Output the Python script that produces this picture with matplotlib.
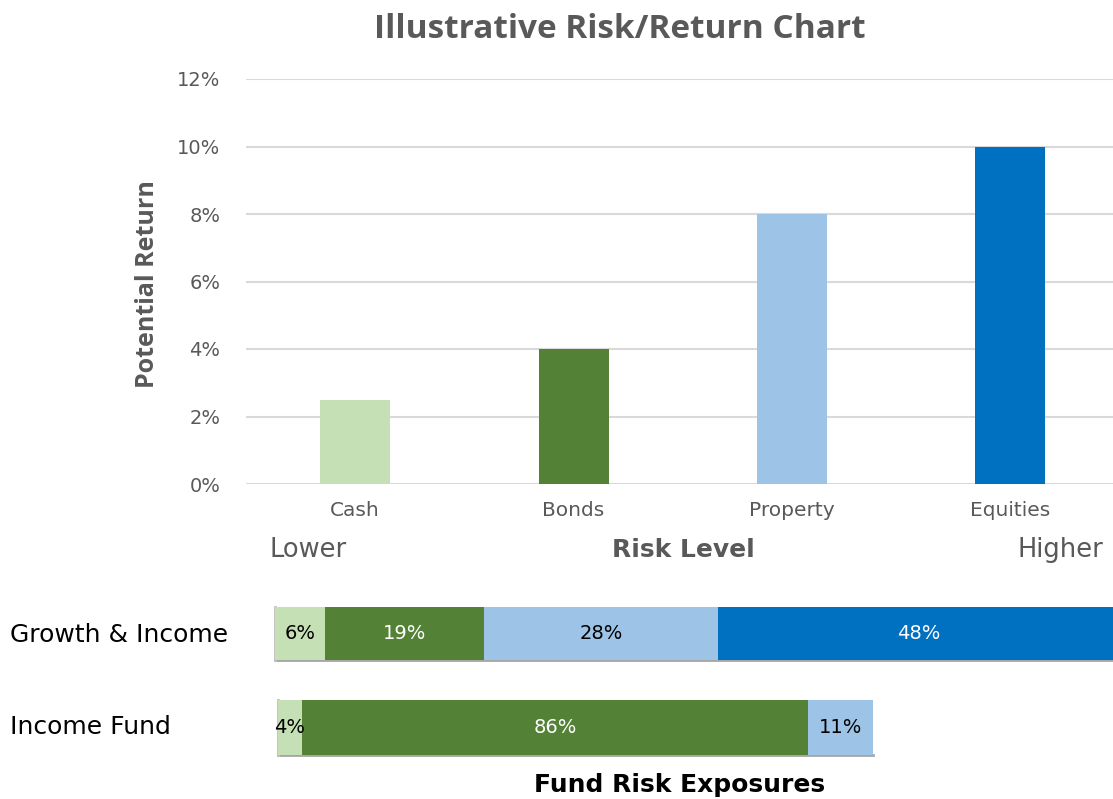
import matplotlib.pyplot as plt
import numpy as np

plt.rcParams['font.family'] = ['DejaVu Sans']

# asset classes and their potential return (%)
assets = ["Cash", "Bonds", "Property", "Equities"]
returns = [2.5, 4.0, 8.0, 10.0]
colors = ["#C5E0B4", "#538135", "#9DC3E6", "#0070C0"]

# fund exposures (%)
growth_income = [6, 19, 28, 48]
income_fund = [4, 86, 11]
growth_lbl = ["6%", "19%", "28%", "48%"]
income_lbl = ["4%", "86%", "11%"]
lbl_col_g = ["black", "white", "black", "white"]
lbl_col_i = ["black", "white", "black"]

grey = "#595959"
W, H = 1113, 799
fig = plt.figure(figsize=(W / 100, H / 100), dpi=100)

def rect(x0, y0, x1, y1):
    return [x0 / W, 1 - y1 / H, (x1 - x0) / W, (y1 - y0) / H]

# --- top: risk / return column chart
ax = fig.add_axes(rect(246, 79, 1113, 484))
x = np.arange(len(assets))
ax.bar(x, returns, width=0.32, color=colors, zorder=3)
ax.set_xlim(-0.5, 3.47)
ax.set_ylim(0, 12)
ax.set_yticks(np.arange(0, 13, 2))
ax.set_yticklabels([f"{v}%" for v in range(0, 13, 2)])
ax.set_xticks(x)
ax.set_xticklabels(assets)
ax.grid(axis="y", color="#D9D9D9", lw=1.5, zorder=0)
for s in ax.spines.values():
    s.set_visible(False)
ax.tick_params(axis="x", length=0, labelsize=14.5, colors=grey, pad=12)
ax.tick_params(axis="y", length=0, labelsize=14, colors=grey, pad=18.5)

fig.text(620 / W, 1 - 30 / H, "Illustrative Risk/Return Chart", ha="center", va="center",
         fontsize=24, fontweight="bold", color=grey, family="Open Sans")
fig.text(147 / W, 1 - 284 / H, "Potential Return", rotation=90, ha="center", va="center",
         fontsize=18, fontweight="bold", color=grey, family="Open Sans")
fig.text(270 / W, 1 - 550 / H, "Lower", ha="left", va="center", fontsize=18.5, color=grey)
fig.text(683 / W, 1 - 550 / H, "Risk Level", ha="center", va="center", fontsize=18,
         fontweight="bold", color=grey)
fig.text(1103 / W, 1 - 550 / H, "Higher", ha="right", va="center", fontsize=18.5, color=grey)

# --- bottom: fund exposure bars
def stacked(axb, vals, labels, lcols):
    left = 0
    for v, c, lab, lc in zip(vals, colors, labels, lcols):
        axb.barh(0, v, left=left, height=1, color=c, zorder=2)
        axb.text(left + v / 2, 0, lab, ha="center", va="center", fontsize=14, color=lc, zorder=3)
        left += v
    # faint shadow edge like the original
    axb.plot([0, left], [-0.5, -0.5], color="#A6A6A6", lw=2, zorder=1, clip_on=False)
    axb.plot([0, 0], [-0.5, 0.5], color="#BFBFBF", lw=2, zorder=1, clip_on=False)
    axb.set_ylim(-0.5, 0.5)
    axb.axis("off")

axg = fig.add_axes(rect(275, 607, 1113, 660))
stacked(axg, growth_income, growth_lbl, lbl_col_g)
axg.set_xlim(0, 100.2)

axi = fig.add_axes(rect(278, 700, 873, 755))
stacked(axi, income_fund, income_lbl, lbl_col_i)
axi.set_xlim(0, 101)

fig.text(10 / W, 1 - 635 / H, "Growth & Income", ha="left", va="center", fontsize=18, color="black")
fig.text(10 / W, 1 - 727 / H, "Income Fund", ha="left", va="center", fontsize=18, color="black")
fig.text(680 / W, 1 - 785 / H, "Fund Risk Exposures", ha="center", va="center", fontsize=18,
         fontweight="bold", color="black")

fig.savefig("out.png", dpi=100)
